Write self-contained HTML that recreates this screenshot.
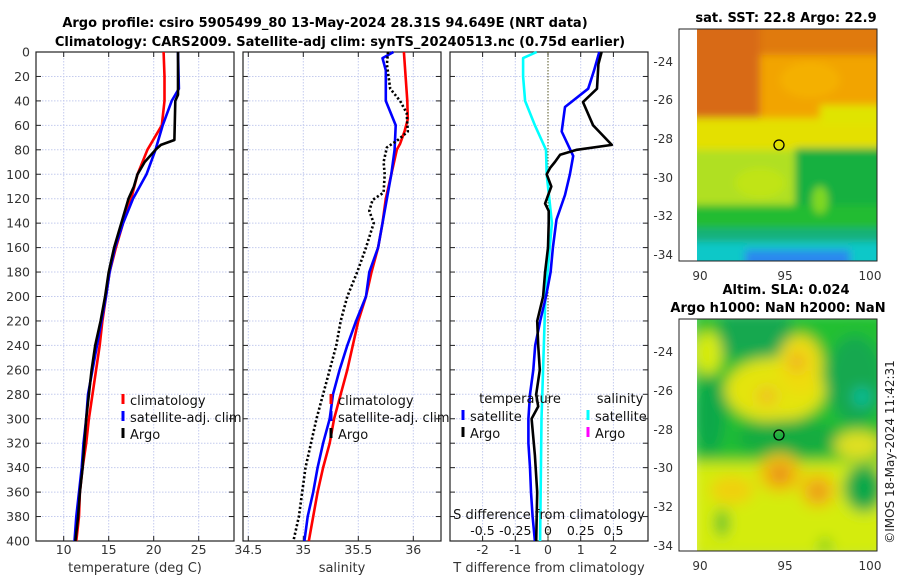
<!DOCTYPE html>
<html><head><meta charset="utf-8">
<style>
body{margin:0;background:#fff;}
svg{display:block;font-family:"DejaVu Sans","Liberation Sans",sans-serif;}
</style></head>
<body>
<svg id="fig" width="900" height="580" viewBox="0 0 900 580">
<defs>
<filter id="blur1" filterUnits="userSpaceOnUse" x="650" y="0" width="260" height="300"><feGaussianBlur stdDeviation="4"/></filter>
<filter id="blur2" filterUnits="userSpaceOnUse" x="650" y="290" width="260" height="290"><feGaussianBlur stdDeviation="7"/></filter>
<clipPath id="clipTop"><rect x="697" y="29" width="180" height="232"/></clipPath>
<clipPath id="clipBot"><rect x="697" y="319" width="180" height="232"/></clipPath>
</defs>
<text x="325" y="27" text-anchor="middle" font-weight="bold" font-size="13">Argo profile: csiro 5905499_80 13-May-2024 28.31S 94.649E (NRT data)</text>
<text x="340" y="46" text-anchor="middle" font-weight="bold" font-size="13">Climatology: CARS2009. Satellite-adj clim: synTS_20240513.nc (0.75d earlier)</text>
<g id="plots"></g>

<!-- top map -->
<g>
<text x="786" y="22" text-anchor="middle" font-weight="bold" font-size="13">sat. SST: 22.8 Argo: 22.9</text>
<g clip-path="url(#clipTop)">
<g filter="url(#blur1)">
<rect x="690" y="20" width="200" height="250" fill="#f2a400"/>
<rect x="690" y="20" width="200" height="35" fill="#e07a10"/>
<rect x="690" y="20" width="70" height="100" fill="#d86a18"/>
<ellipse cx="810" cy="80" rx="30" ry="18" fill="#f4b000"/>
<rect x="690" y="118" width="200" height="35" fill="#e4e000"/>
<rect x="820" y="105" width="70" height="20" fill="#e0e400"/>
<rect x="690" y="150" width="110" height="60" fill="#b0e020"/>
<rect x="795" y="148" width="95" height="85" fill="#14b040"/>
<ellipse cx="760" cy="183" rx="25" ry="15" fill="#c0e418"/>
<rect x="690" y="205" width="200" height="30" fill="#20bc30"/>
<ellipse cx="820" cy="200" rx="8" ry="14" fill="#80d820"/>
<rect x="690" y="228" width="200" height="40" fill="#18b07a"/>
<rect x="690" y="242" width="200" height="30" fill="#10c8c8"/>
<rect x="745" y="250" width="105" height="20" fill="#2a88ee"/>
</g></g>
<rect x="679" y="29" width="198" height="232" fill="none" stroke="#222" stroke-width="1"/>
<circle cx="779" cy="145" r="5" fill="none" stroke="#000" stroke-width="1.3"/>
<g font-size="12" fill="#333" text-anchor="end">
<text x="673" y="66">-24</text><text x="673" y="104">-26</text><text x="673" y="143">-28</text><text x="673" y="182">-30</text><text x="673" y="220">-32</text><text x="673" y="259">-34</text>
</g>
<g font-size="12" fill="#333" text-anchor="middle">
<text x="700" y="280">90</text><text x="785" y="280">95</text><text x="870" y="280">100</text>
</g>
</g>

<!-- bottom map -->
<g>
<text x="786" y="294" text-anchor="middle" font-weight="bold" font-size="13">Altim. SLA: 0.024</text>
<text x="778" y="312" text-anchor="middle" font-weight="bold" font-size="13">Argo h1000: NaN h2000: NaN</text>
<g clip-path="url(#clipBot)">
<g filter="url(#blur2)">
<rect x="690" y="310" width="200" height="250" fill="#20c030"/>
<rect x="720" y="312" width="70" height="45" fill="#12a850"/>
<ellipse cx="708" cy="353" rx="14" ry="22" fill="#d8ec10"/>
<ellipse cx="775" cy="390" rx="50" ry="32" fill="#e4e410"/>
<ellipse cx="800" cy="365" rx="22" ry="30" fill="#eedc10"/>
<ellipse cx="797" cy="362" rx="8" ry="10" fill="#f0b020"/>
<ellipse cx="767" cy="396" rx="10" ry="9" fill="#f0c020"/>
<ellipse cx="710" cy="415" rx="16" ry="40" fill="#10a848"/>
<ellipse cx="790" cy="438" rx="55" ry="18" fill="#12ac40"/>
<ellipse cx="855" cy="380" rx="28" ry="45" fill="#12a850"/>
<ellipse cx="862" cy="397" rx="9" ry="9" fill="#10c0a0"/>
<ellipse cx="858" cy="445" rx="24" ry="14" fill="#e0e020"/>
<rect x="690" y="462" width="200" height="95" fill="#d4ec10"/>
<ellipse cx="780" cy="473" rx="22" ry="20" fill="#f0c000"/>
<ellipse cx="780" cy="474" rx="10" ry="9" fill="#e88a20"/>
<ellipse cx="818" cy="490" rx="18" ry="18" fill="#f0c010"/>
<ellipse cx="818" cy="492" rx="8" ry="8" fill="#e89020"/>
<ellipse cx="732" cy="490" rx="22" ry="14" fill="#f0d010"/>
<ellipse cx="864" cy="488" rx="20" ry="24" fill="#10a848"/>
<ellipse cx="722" cy="523" rx="6" ry="14" fill="#20b830"/>
<ellipse cx="825" cy="545" rx="6" ry="6" fill="#30c020"/>
</g></g>
<rect x="679" y="319" width="198" height="232" fill="none" stroke="#222" stroke-width="1"/>
<circle cx="779" cy="435" r="5" fill="none" stroke="#000" stroke-width="1.3"/>
<g font-size="12" fill="#333" text-anchor="end">
<text x="673" y="356">-24</text><text x="673" y="395">-26</text><text x="673" y="434">-28</text><text x="673" y="472">-30</text><text x="673" y="511">-32</text><text x="673" y="550">-34</text>
</g>
<g font-size="12" fill="#333" text-anchor="middle">
<text x="700" y="570">90</text><text x="785" y="570">95</text><text x="870" y="570">100</text>
</g>
</g>
<text transform="translate(894,452) rotate(-90)" text-anchor="middle" font-size="12" fill="#222">©IMOS 18-May-2024 11:42:31</text>
</svg>
<script>
// ---- data ----
const depthTicks = [0,20,40,60,80,100,120,140,160,180,200,220,240,260,280,300,320,340,360,380,400];
const tempTicks = [10,15,20,25];
const salTicks = [34.5,35,35.5,36];
const salTickLabels = ["34.5","35","35.5","36"];
const tdiffTicks = [-2,-1,0,1,2];
const sdiffTicks = [-0.5,-0.25,0,0.25,0.5];
const sdiffTickLabels = ["-0.5","-0.25","0","0.25","0.5"];

const climTDepth = [0,20,40,60,80,100,120,140,160,180,200,220,240,260,280,300,320,340,360,380,400];
const climT = [21.1,21.2,21.2,20.9,19.3,18.2,17.5,16.6,15.8,15.1,14.7,14.3,14.0,13.6,13.2,12.8,12.5,12.1,11.8,11.7,11.4];
const satTDepth = [0,30,40,60,80,100,120,140,160,180,200,220,240,260,280,300,320,340,360,380,400];
const satT = [22.7,22.8,22.0,21.0,20.2,19.2,17.7,16.6,15.7,15.1,14.7,14.2,13.7,13.2,12.7,12.5,12.2,12.0,11.7,11.4,11.2];
const argoTDepth = [0,35,40,72,76,80,90,100,110,120,140,160,180,200,220,240,260,280,300,320,340,360,380,400];
const argoT = [22.7,22.7,22.4,22.3,20.8,20.2,19.0,18.2,17.8,17.2,16.4,15.6,15.0,14.6,14.1,13.5,13.1,12.8,12.5,12.3,12.1,11.8,11.6,11.3];

const climSDepth = [0,20,40,55,65,75,80,100,120,140,160,180,200,220,240,260,280,300,320,340,360,380,400];
const climS = [35.915,35.93,35.945,35.95,35.92,35.88,35.85,35.8,35.75,35.72,35.68,35.62,35.57,35.5,35.45,35.4,35.34,35.28,35.24,35.18,35.13,35.09,35.05];
const satSDepth = [0,5,15,40,60,80,100,120,140,160,180,200,220,240,260,280,300,320,340,360,380,400];
const satS = [35.82,35.72,35.75,35.75,35.84,35.83,35.8,35.76,35.72,35.68,35.6,35.57,35.48,35.4,35.33,35.27,35.24,35.18,35.13,35.09,35.04,35.01];
const argoSDepth = [0,10,30,40,50,65,72,78,90,100,115,121,130,140,160,180,200,220,240,260,280,300,320,340,360,380,400];
const argoS = [35.77,35.76,35.79,35.88,35.94,35.95,35.86,35.76,35.73,35.74,35.73,35.63,35.6,35.64,35.57,35.49,35.4,35.34,35.3,35.24,35.18,35.12,35.07,35.02,34.99,34.96,34.91];

const satTdDepth = [0,15,30,45,65,85,100,117,137,160,180,200,220,240,260,280,300,320,340,360,380,400];
const satTd = [1.57,1.41,1.23,0.52,0.42,0.77,0.67,0.52,0.26,0.15,0.08,-0.06,-0.24,-0.39,-0.45,-0.55,-0.6,-0.6,-0.55,-0.52,-0.47,-0.4];
const argoTdDepth = [0,10,30,41,60,76,80,84,90,95,100,110,118,124,130,140,160,180,200,220,240,260,280,290,300,330,360,400];
const argoTd = [1.64,1.54,1.5,1.07,1.38,1.95,0.88,0.37,0.21,0.06,-0.04,0.1,-0.01,-0.09,0.02,0.02,0,-0.09,-0.15,-0.33,-0.3,-0.25,-0.36,-0.3,-0.5,-0.4,-0.33,-0.36];
const satSdDepth = [0,5,20,40,60,80,100,120,140,200,300,400];
const satSd = [-0.086,-0.19,-0.19,-0.175,-0.1,-0.015,-0.01,0.01,0.03,-0.02,-0.05,-0.06];

// ---- layout ----
const NS = "http://www.w3.org/2000/svg";
const TOP = 52, BOT = 541;
const yD = d => TOP + (d/400)*(BOT-TOP);
const xT = t => 63.7 + (t-10)*9;
const xS = s => 303.3 + (s-35)*110;
const xTd = v => 548 + v*32.7;
const xSd = v => 548 + v*131;
const root = document.getElementById('plots');

function mk(tag, attrs, parent){
  const e = document.createElementNS(NS, tag);
  for (const k in attrs) e.setAttribute(k, attrs[k]);
  (parent||root).appendChild(e);
  return e;
}
function txt(x,y,s,size,anchor,parent){
  const t = mk('text',{x:x,y:y,'font-size':size,'text-anchor':anchor||'middle',fill:'#333'},parent);
  t.textContent = s;
  return t;
}

function panel(name, x0, x1, xticks, xfn, tickLabels, showYLabels, xlabel){
  const g = mk('g',{});
  
  
  depthTicks.forEach(d=>{
    const l = mk('line',{x1:x0,x2:x1,y1:yD(d),y2:yD(d),stroke:'#c4cbee','stroke-width':1,'stroke-dasharray':'1.5 1.5'},g);
    
    
    mk('line',{x1:x0,x2:x0+5,y1:yD(d),y2:yD(d),stroke:'#222'},g);
    mk('line',{x1:x1-5,x2:x1,y1:yD(d),y2:yD(d),stroke:'#222'},g);
    if (showYLabels){
      const t = txt(30,yD(d)+4.5,String(d),12.5,'end',g);
      
      
    }
  });
  xticks.forEach((v,i)=>{
    const X = xfn(v);
    const l = mk('line',{x1:X,x2:X,y1:TOP,y2:BOT,stroke:'#c4cbee','stroke-width':1,'stroke-dasharray':'1.5 1.5'},g);
    
    
    mk('line',{x1:X,x2:X,y1:BOT-5,y2:BOT,stroke:'#222'},g);
    mk('line',{x1:X,x2:X,y1:TOP,y2:TOP+5,stroke:'#222'},g);
    const t = txt(X,554,tickLabels[i],12.5,'middle',g);
    
    
  });
  const r = mk('rect',{x:x0,y:TOP,width:x1-x0,height:BOT-TOP,fill:'none',stroke:'#222','stroke-width':1.2},g);
  
  
  const xl = txt((x0+x1)/2,572,xlabel,13,'middle',g);
  
  
  return g;
}
function series(g, name, depths, vals, xfn, color, dash){
  const pts = depths.map((d,i)=>xfn(vals[i]).toFixed(1)+','+yD(d).toFixed(1)).join(' ');
  const p = mk('polyline',{points:pts,fill:'none',stroke:color,'stroke-width':2.6,'stroke-linejoin':'round'},g);
  if (dash) p.setAttribute('stroke-dasharray', dash);
  
  
}
function legendEntry(g, name, mx, y, label, color){
  const e = mk('g',{},g);
  
  
  mk('line',{x1:mx,x2:mx,y1:y-11,y2:y-1,stroke:color,'stroke-width':3},e);
  const t = txt(mx+7,y,label,13,'start',e);
  t.setAttribute('fill','#111');
}

// panel 1 temperature
const p1 = panel('temperature-panel',36,234,tempTicks,xT,tempTicks.map(String),true,'temperature (deg C)');
series(p1,'temp-climatology-line',climTDepth,climT,xT,'#f00');
series(p1,'temp-satellite-line',satTDepth,satT,xT,'#00f');
series(p1,'temp-argo-line',argoTDepth,argoT,xT,'#000');
legendEntry(p1,'legend-climatology',123,405,'climatology','#f00');
legendEntry(p1,'legend-satellite-adj',123,422,'satellite-adj. clim','#00f');
legendEntry(p1,'legend-argo',123,439,'Argo','#000');

// panel 2 salinity
const p2 = panel('salinity-panel',243,441,salTicks,xS,salTickLabels,false,'salinity');
series(p2,'sal-climatology-line',climSDepth,climS,xS,'#f00');
series(p2,'sal-satellite-line',satSDepth,satS,xS,'#00f');
series(p2,'sal-argo-line',argoSDepth,argoS,xS,'#000','2.2 2.2');
legendEntry(p2,'legend-climatology-sal',331,405,'climatology','#f00');
legendEntry(p2,'legend-satellite-adj-sal',331,422,'satellite-adj. clim','#00f');
legendEntry(p2,'legend-argo-sal',331,439,'Argo','#000');

// panel 3 differences
const p3 = panel('difference-panel',450,648,tdiffTicks,xTd,tdiffTicks.map(String),false,'T difference from climatology');
const zl = mk('line',{x1:xTd(0),x2:xTd(0),y1:TOP,y2:BOT,stroke:'#555522','stroke-width':1,'stroke-dasharray':'1.5 1.5'},p3);


series(p3,'sdiff-satellite-line',satSdDepth,satSd,xSd,'#0ff');
series(p3,'tdiff-satellite-line',satTdDepth,satTd,xTd,'#00f');
series(p3,'tdiff-argo-line',argoTdDepth,argoTd,xTd,'#000');
const lt = txt(520,403,'temperature',13,'middle',p3); lt.setAttribute('fill','#111');


const ls = txt(620,403,'salinity',13,'middle',p3); ls.setAttribute('fill','#111');


legendEntry(p3,'legend-tdiff-satellite',463,421,'satellite','#00f');
legendEntry(p3,'legend-tdiff-argo',463,438,'Argo','#000');
legendEntry(p3,'legend-sdiff-satellite',588,421,'satellite','#0ff');
legendEntry(p3,'legend-sdiff-argo',588,438,'Argo','#f0f');
const st = txt(549,519,'S difference from climatology',13,'middle',p3); st.setAttribute('fill','#111');


sdiffTicks.forEach((v,i)=>{
  const t = txt(xSd(v),535,sdiffTickLabels[i],12.5,'middle',p3);
  t.setAttribute('fill','#111');
  
  
});
</script>
</body></html>
